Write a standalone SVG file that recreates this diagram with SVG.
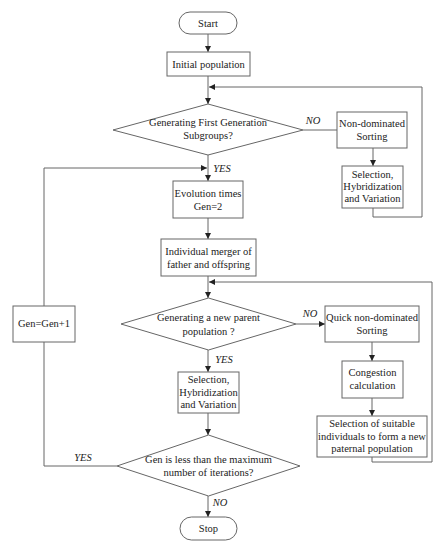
<svg xmlns="http://www.w3.org/2000/svg" width="441" height="550" viewBox="0 0 441 550">
<defs>
<marker id="ah" markerWidth="6" markerHeight="6" refX="6" refY="3" orient="auto" markerUnits="userSpaceOnUse">
<path d="M0,0 L6,3 L0,6 Z" fill="#222"/>
</marker>
<style>
.s{fill:#fff;stroke:#666;stroke-width:1}
.c{fill:none;stroke:#666;stroke-width:1}
.a{fill:none;stroke:#666;stroke-width:1;marker-end:url(#ah)}
text{font-family:'Liberation Serif','Times New Roman','DejaVu Serif',serif;font-size:10.5px;fill:#222;text-anchor:middle}
.l{font-style:italic}
</style>
</defs>
<rect width="441" height="550" fill="#fff"/>
<g id="connectors">
<path class="a" d="M208,34 V52"/>
<path class="a" d="M208,76 V104"/>
<path class="c" d="M303,130 H337"/>
<path class="a" d="M373,148 V166"/>
<path class="a" d="M373,208 V217 H422 V87 H209"/>
<path class="a" d="M208,155 V181"/>
<path class="a" d="M208,218 V239"/>
<path class="a" d="M208,276 V298"/>
<path class="a" d="M372,457 V462 H432 V282 H209"/>
<path class="a" d="M296,324 H325"/>
<path class="a" d="M372,342 V361"/>
<path class="a" d="M372,398 V416"/>
<path class="a" d="M208,350 V372"/>
<path class="a" d="M208,413 V435"/>
<path class="a" d="M117,466 H44 V168 H207"/>
<path class="a" d="M208,496 V517"/>
<text class="l" x="313" y="124">NO</text>
<text class="l" x="222" y="172">YES</text>
<text class="l" x="310" y="317">NO</text>
<text class="l" x="224" y="363">YES</text>
<text class="l" x="83" y="461">YES</text>
<text class="l" x="220" y="506">NO</text>
</g>
<g id="start"><rect class="s" x="179" y="12" width="58" height="22" rx="11"/><text x="208" y="27">Start</text></g>
<g id="init"><rect class="s" x="167" y="52" width="83" height="24"/><text x="208.5" y="68">Initial population</text></g>
<g id="d1"><polygon class="s" points="208,104 303,130 208,155 113,130"/><text x="208" y="126">Generating First Generation</text><text x="208" y="139">Subgroups?</text></g>
<g id="nds"><rect class="s" x="337" y="112" width="70" height="36"/><text x="372" y="127">Non-dominated</text><text x="372" y="140">Sorting</text></g>
<g id="shv1"><rect class="s" x="342" y="166" width="61" height="42"/><text x="372.5" y="178">Selection,</text><text x="372.5" y="190">Hybridization</text><text x="372.5" y="202">and Variation</text></g>
<g id="evo"><rect class="s" x="173" y="181" width="70" height="37"/><text x="208" y="197">Evolution times</text><text x="208" y="210">Gen=2</text></g>
<g id="merge"><rect class="s" x="161" y="239" width="95" height="37"/><text x="208.5" y="255">Individual merger of</text><text x="208.5" y="268">father and offspring</text></g>
<g id="d2"><polygon class="s" points="208.5,298 296,324 208.5,350 121,324"/><text x="208.5" y="321">Generating a new parent</text><text x="208.5" y="335">population ?</text></g>
<g id="quick"><rect class="s" x="325" y="306" width="94" height="36"/><text x="372" y="321">Quick non-dominated</text><text x="372" y="334">Sorting</text></g>
<g id="cong"><rect class="s" x="342" y="361" width="61" height="37"/><text x="372.5" y="376">Congestion</text><text x="372.5" y="389">calculation</text></g>
<g id="sel"><rect class="s" x="317" y="416" width="110" height="41"/><text x="372" y="427">Selection of suitable</text><text x="372" y="440">individuals to form a new</text><text x="372" y="452">paternal population</text></g>
<g id="shv2"><rect class="s" x="178" y="372" width="61" height="41"/><text x="208.5" y="383">Selection,</text><text x="208.5" y="396">Hybridization</text><text x="208.5" y="408">and Variation</text></g>
<g id="gen"><rect class="s" x="13" y="306" width="62" height="36"/><text x="44" y="327">Gen=Gen+1</text></g>
<g id="d3"><polygon class="s" points="208.5,435 300,466 208.5,496 117,466"/><text x="208.5" y="463">Gen is less than the maximum</text><text x="208.5" y="476">number of iterations?</text></g>
<g id="stop"><rect class="s" x="180" y="517" width="57" height="23" rx="11.5"/><text x="208.5" y="532">Stop</text></g>
</svg>
